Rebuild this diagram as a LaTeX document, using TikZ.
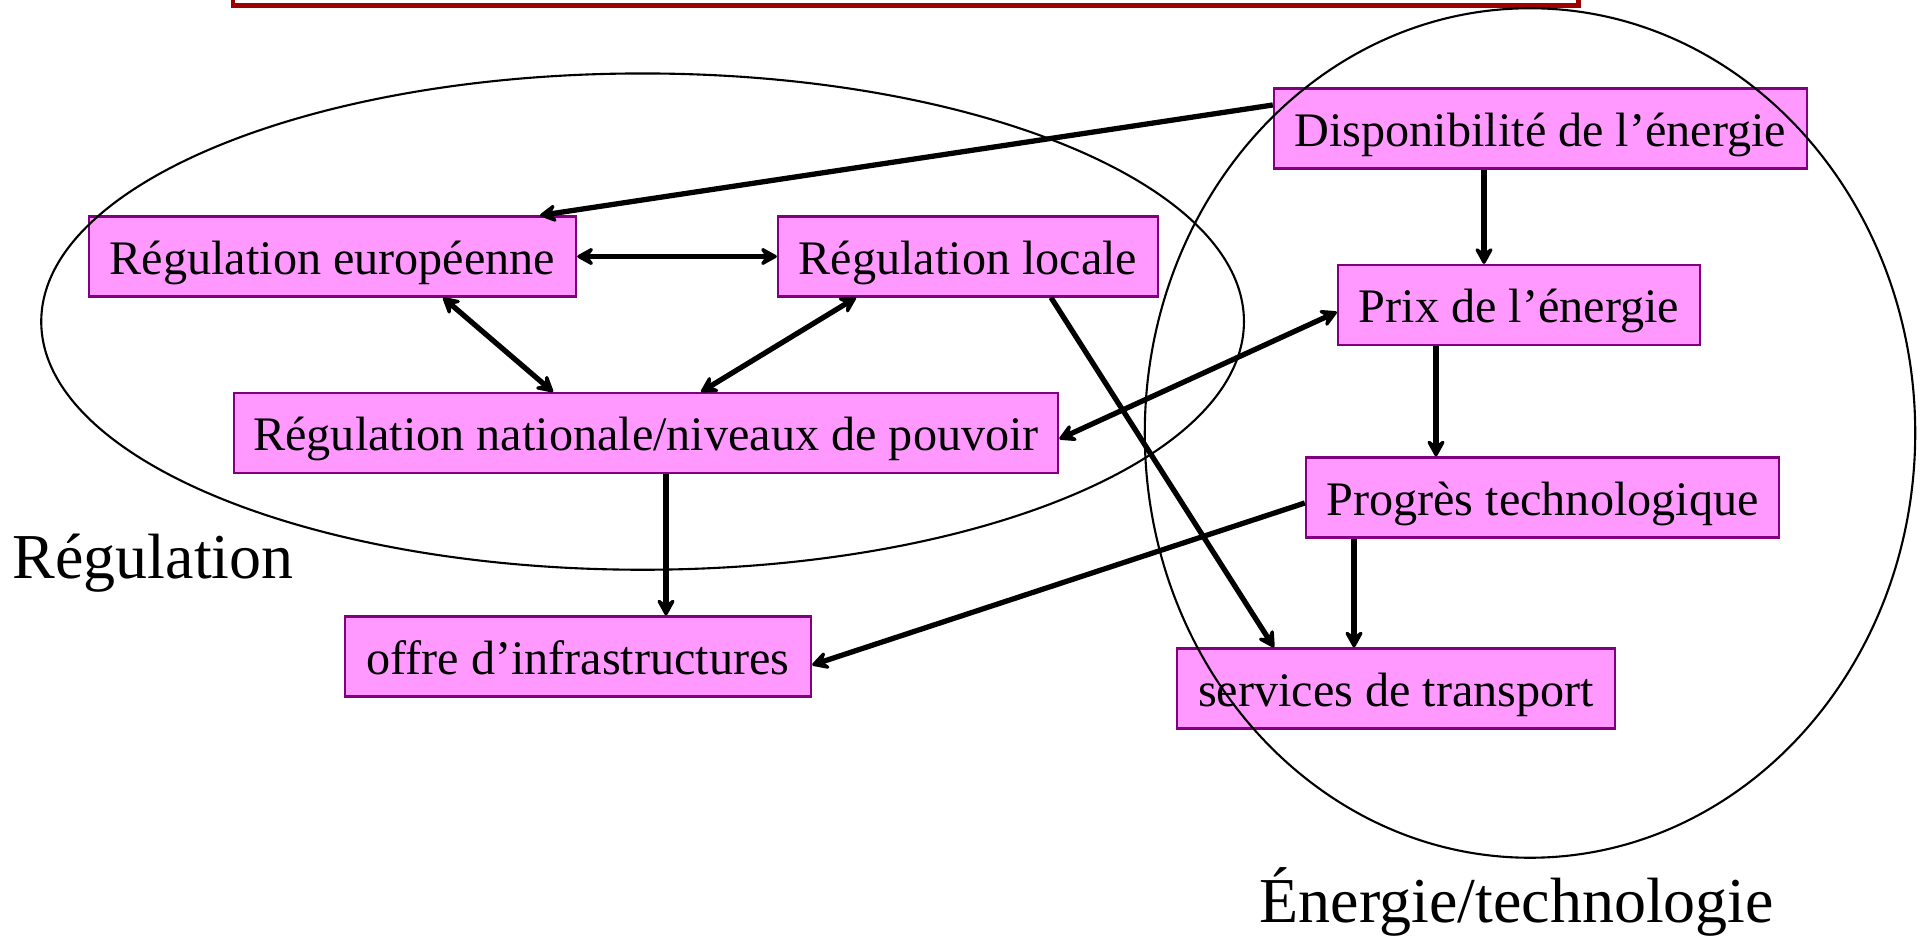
\documentclass[tikz,border=0pt]{standalone}
\usepackage{fontspec}
\setmainfont{Liberation Serif}
\usetikzlibrary{arrows.meta,calc}

\definecolor{boxfill}{HTML}{FF99FF}
\definecolor{boxline}{HTML}{800080}
\definecolor{framered}{HTML}{A00000}

\tikzset{
  factor/.style={draw=boxline, fill=boxfill, line width=0.6pt, inner sep=0pt,
    minimum height=0.8cm, text height=0.5cm, text depth=0.15cm,
    font=\fontsize{13.7}{16}\selectfont},
  tip/.tip={Stealth[length=6pt,width=6.6pt,inset=2.4pt,round]},
  link/.style={line width=1.5pt, -tip},
  duallink/.style={line width=1.5pt, tip-tip},
  group/.style={line width=0.6pt, draw=black},
  grouplabel/.style={inner sep=0pt, font=\fontsize{18.2}{22}\selectfont}
}

\begin{document}
\begin{tikzpicture}[x=0.01cm, y=-0.01cm]
\useasboundingbox (0,0) rectangle (1921,937);

% frame of the title box above
\begin{scope}
  \clip (0,0) rectangle (1921,937);
  \draw[framered, line width=1.42pt] (233,-40) rectangle (1578,6);
\end{scope}

% factors
\node[factor, minimum width=4.87cm] (eu)    at (332.5,256.5) {Régulation européenne};
\node[factor, minimum width=3.80cm] (loc)   at (968,256.5)   {Régulation locale};
\node[factor, minimum width=8.24cm] (nat)   at (646,433)     {Régulation nationale/niveaux de pouvoir};
\node[factor, minimum width=4.66cm] (offre) at (578,656.5)   {offre d’infrastructures};
\node[factor, minimum width=5.33cm] (dispo) at (1540.5,128.5) {Disponibilité de l’énergie};
\node[factor, minimum width=3.62cm] (prix)  at (1519,305)    {Prix de l’énergie};
\node[factor, minimum width=4.73cm] (prog)  at (1542.5,497.5) {Progrès technologique};
\node[factor, minimum width=4.38cm] (serv)  at (1396,688.5)  {services de transport};

% groupings
\draw[group] (642.6,321.6) ellipse [x radius=6.01cm, y radius=2.48cm];
\draw[group] (1530,433) ellipse [x radius=3.85cm, y radius=4.245cm];

\node[grouplabel, anchor=base west] (lreg) at (12,578) {Régulation};
\node[grouplabel, anchor=base west] (lnrg) at (1259,922) {Énergie/technologie};

% influences
\draw[link] ($(dispo.west)+(0,-23.5)$) -- ($(eu.north)+(207.5,0)$);
\draw[duallink] (eu.east) -- (loc.west);
\draw[duallink] ($(eu.south)+(110.5,0)$) -- ($(nat.north)+(-93,0)$);
\draw[duallink] ($(loc.south)+(-112,0)$) -- ($(nat.north)+(55,0)$);
\draw[link] ($(loc.south)+(83,0)$) -- ($(serv.north)+(-122,0)$);
\draw[duallink] ($(prix.west)+(0,7)$) -- ($(nat.east)+(0,6)$);
\draw[link] ($(dispo.south)+(-56.5,0)$) -- ($(prix.north)+(-35,0)$);
\draw[link] ($(prix.south)+(-83,0)$) -- ($(prog.north)+(-106.5,0)$);
\draw[link] ($(prog.west)+(0,5.5)$) -- ($(offre.east)+(0,8.5)$);
\draw[link] ($(prog.south)+(-188.5,0)$) -- ($(serv.north)+(-42,0)$);
\draw[link] ($(nat.south)+(20,0)$) -- ($(offre.north)+(88,0)$);
\end{tikzpicture}
\end{document}
